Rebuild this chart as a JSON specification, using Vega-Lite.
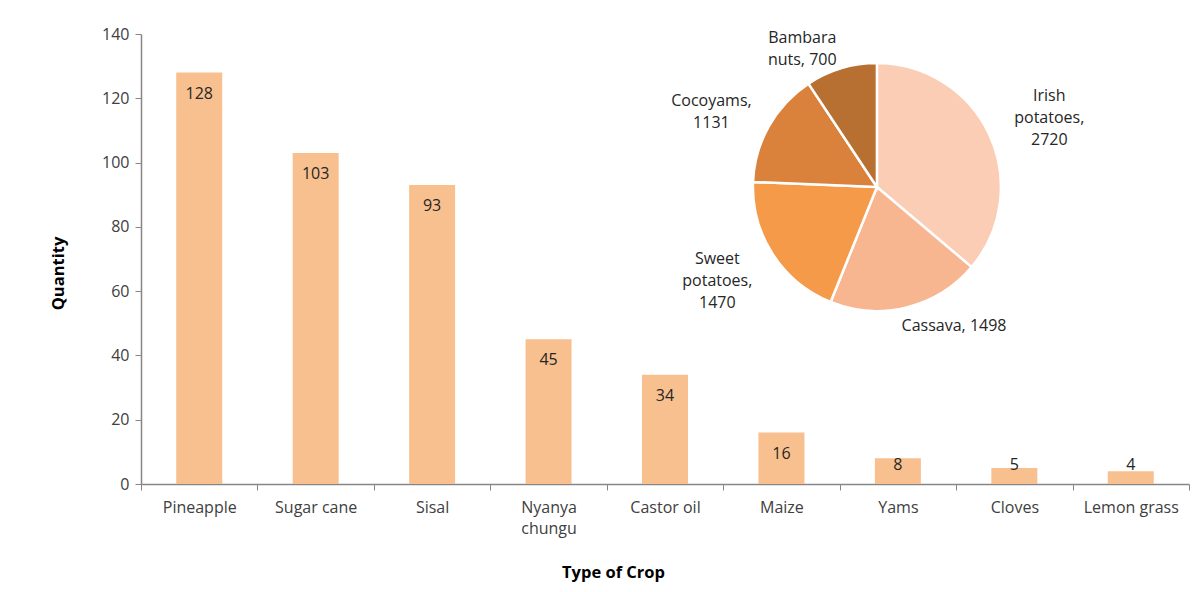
{
  "$schema": "https://vega.github.io/schema/vega-lite/v6.json",
  "width": 1048,
  "height": 450,
  "autosize": "none",
  "padding": {"left": 141, "top": 34, "right": 14, "bottom": 108},
  "background": "white",
  "config": {
    "view": {"stroke": null},
    "font": "Open Sans",
    "axis": {"labelFont": "Open Sans", "titleFont": "Open Sans"}
  },
  "datasets": {
    "crops": [
      {"crop": "Pineapple", "qty": 128},
      {"crop": "Sugar cane", "qty": 103},
      {"crop": "Sisal", "qty": 93},
      {"crop": "Nyanya chungu", "qty": 45},
      {"crop": "Castor oil", "qty": 34},
      {"crop": "Maize", "qty": 16},
      {"crop": "Yams", "qty": 8},
      {"crop": "Cloves", "qty": 5},
      {"crop": "Lemon grass", "qty": 4}
    ],
    "roots": [
      {"crop": "Irish potatoes", "amount": 2720, "label": "Irish|potatoes,|2720"},
      {"crop": "Cassava", "amount": 1498, "label": "Cassava, 1498"},
      {"crop": "Sweet potatoes", "amount": 1470, "label": "Sweet|potatoes,|1470"},
      {"crop": "Cocoyams", "amount": 1131, "label": "Cocoyams,|1131"},
      {"crop": "Bambara nuts", "amount": 700, "label": "Bambara|nuts, 700"}
    ]
  },
  "layer": [
    {
      "data": {"name": "crops"},
      "encoding": {
        "x": {
          "field": "crop",
          "type": "nominal",
          "sort": null,
          "scale": {"paddingInner": 0, "paddingOuter": 0},
          "axis": {
            "title": "Type of Crop",
            "titleFontSize": 16.5,
            "titleFontWeight": "bold",
            "titleColor": "#000000",
            "titleX": 472,
            "titleY": 88,
            "titleAlign": "center",
            "titleBaseline": "middle",
            "labelAngle": 0,
            "labelFontSize": 16,
            "labelColor": "#404040",
            "labelPadding": 9,
            "labelLineHeight": 21,
            "labelExpr": "datum.value == 'Nyanya chungu' ? ['Nyanya', 'chungu'] : datum.value",
            "tickBand": "extent",
            "tickSize": 6,
            "tickColor": "#868686",
            "domainColor": "#868686",
            "domainWidth": 1.5
          }
        },
        "y": {
          "field": "qty",
          "type": "quantitative",
          "scale": {"domain": [0, 140]},
          "axis": {
            "title": "Quantity",
            "titleFontSize": 16.5,
            "titleFontWeight": "bold",
            "titleColor": "#000000",
            "titleX": -83,
            "titleY": 239,
            "titleAlign": "center",
            "titleBaseline": "middle",
            "values": [0, 20, 40, 60, 80, 100, 120, 140],
            "grid": false,
            "labelFontSize": 16,
            "labelColor": "#404040",
            "labelPadding": 6,
            "tickSize": 6,
            "tickColor": "#868686",
            "domainColor": "#868686",
            "domainWidth": 1.5
          }
        }
      },
      "layer": [
        {"mark": {"type": "bar", "color": "#F9C08F", "width": {"band": 0.395}}},
        {
          "transform": [{"filter": "datum.qty >= 10"}],
          "mark": {"type": "text", "dy": 21, "baseline": "middle", "fontSize": 16, "color": "#262626"},
          "encoding": {"text": {"field": "qty", "type": "quantitative"}}
        },
        {
          "transform": [{"filter": "datum.qty < 10"}],
          "mark": {"type": "text", "baseline": "middle", "fontSize": 16, "color": "#262626"},
          "encoding": {
            "y": {"datum": 5.9, "type": "quantitative"},
            "text": {"field": "qty", "type": "quantitative"}
          }
        }
      ]
    },
    {
      "data": {"name": "roots"},
      "encoding": {
        "theta": {"field": "amount", "type": "quantitative", "stack": true},
        "order": {"field": "amount", "type": "quantitative", "sort": "descending"},
        "x": {"datum": "Yams", "type": "nominal", "bandPosition": 0.32, "title": "Type of Crop"},
        "y": {"datum": 92.4, "type": "quantitative", "title": "Quantity"}
      },
      "layer": [
        {
          "mark": {"type": "arc", "outerRadius": 124, "stroke": "white", "strokeWidth": 2.5},
          "encoding": {
            "color": {
              "field": "crop",
              "type": "nominal",
              "scale": {
                "domain": ["Irish potatoes", "Cassava", "Sweet potatoes", "Cocoyams", "Bambara nuts"],
                "range": ["#FBCDB5", "#F8B690", "#F59A48", "#DA823C", "#B87032"]
              },
              "legend": null
            }
          }
        },
        {
          "mark": {"type": "text", "radius": 190, "dy": -11, "fontSize": 16, "color": "#262626", "lineBreak": "|", "lineHeight": 22, "baseline": "middle", "align": "center"},
          "encoding": {
            "text": {"condition": {"test": "datum.crop == 'Irish potatoes'", "field": "label"}, "value": ""}
          }
        },
        {
          "mark": {"type": "text", "radius": 190, "dy": -31, "fontSize": 16, "color": "#262626", "lineBreak": "|", "lineHeight": 22, "baseline": "middle", "align": "center"},
          "encoding": {
            "text": {"condition": {"test": "datum.crop == 'Sweet potatoes'", "field": "label"}, "value": ""}
          }
        },
        {
          "mark": {"type": "text", "radius": 190, "dy": 7, "fontSize": 16, "color": "#262626", "lineBreak": "|", "lineHeight": 22, "baseline": "middle", "align": "center"},
          "encoding": {
            "text": {"condition": {"test": "datum.crop == 'Cocoyams'", "field": "label"}, "value": ""}
          }
        },
        {
          "mark": {"type": "text", "radius": 146, "dx": 42, "dy": -3, "fontSize": 16, "color": "#262626", "lineBreak": "|", "lineHeight": 22, "baseline": "middle", "align": "center"},
          "encoding": {
            "text": {"condition": {"test": "datum.crop == 'Cassava'", "field": "label"}, "value": ""}
          }
        },
        {
          "mark": {"type": "text", "radius": 148, "dx": -32, "dy": -7, "fontSize": 16, "color": "#262626", "lineBreak": "|", "lineHeight": 22, "baseline": "middle", "align": "center"},
          "encoding": {
            "text": {"condition": {"test": "datum.crop == 'Bambara nuts'", "field": "label"}, "value": ""}
          }
        }
      ]
    }
  ]
}
